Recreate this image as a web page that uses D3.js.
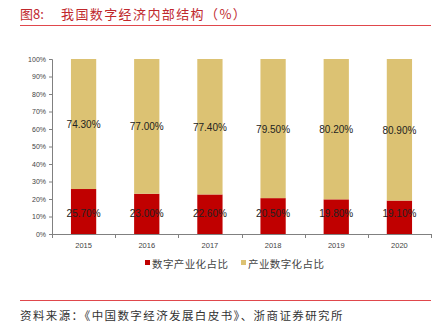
<!DOCTYPE html>
<html>
<head>
<meta charset="utf-8">
<script src="https://cdn.jsdelivr.net/npm/d3@7/dist/d3.min.js"></script>
<style>
  html, body { margin: 0; padding: 0; background: #fff; }
  svg { display: block; }
</style>
</head>
<body>
<svg id="chart" width="438" height="331"></svg>
<script>
// 我国数字经济内部结构
const years = ["2015", "2016", "2017", "2018", "2019", "2020"];
const industrialization = [25.7, 23.0, 22.6, 20.5, 19.8, 19.1];   // 数字产业化占比
const digitization = [74.3, 77.0, 77.4, 79.5, 80.2, 80.9];        // 产业数字化占比
const seriesNames = ["数字产业化占比", "产业数字化占比"];
const yTicks = [0, 10, 20, 30, 40, 50, 60, 70, 80, 90, 100];

const colors = ["#C00000", "#DCC273"];
const cjk = "'Noto Sans CJK SC', sans-serif";
const latin = "'Liberation Sans', Arial, sans-serif";

const svg = d3.select("#chart");

// Title and rule
svg.append("text")
  .attr("x", 20).attr("y", 19)
  .attr("font-family", cjk).attr("font-size", 13)
  .attr("fill", "#C0282D")
  .text("图8:");
svg.append("text")
  .attr("x", 61).attr("y", 19)
  .attr("font-family", cjk).attr("font-size", 13)
  .attr("letter-spacing", 1.4)
  .attr("fill", "#C0282D")
  .text("我国数字经济内部结构（%）");
svg.append("line")
  .attr("x1", 20).attr("x2", 431).attr("y1", 25.5).attr("y2", 25.5)
  .attr("stroke", "#E0474C").attr("stroke-width", 1);

const margin = { left: 52, right: 431, top: 59, bottom: 234 };
const x = d3.scaleBand().domain(years).range([margin.left, margin.right]).paddingInner(0.6).paddingOuter(0.3);
const y = d3.scaleLinear().domain([0, 100]).range([margin.bottom, margin.top]);

// Stacked bars
const rows = years.map((yr, i) => ({ year: yr, a: industrialization[i], b: digitization[i] }));
const stack = d3.stack().keys(["a", "b"])(rows);

const g = svg.append("g");
stack.forEach((layer, k) => {
  g.selectAll(null).data(layer).enter().append("rect")
    .attr("x", d => x(d.data.year))
    .attr("width", x.bandwidth())
    .attr("y", d => y(d[1]))
    .attr("height", d => y(d[0]) - y(d[1]))
    .attr("fill", colors[k]);
});

// Value labels
stack.forEach((layer, k) => {
  g.selectAll(null).data(layer).enter().append("text")
    .attr("x", d => x(d.data.year) + x.bandwidth() / 2)
    .attr("y", d => k === 0 ? y(12) : y(d[0] + (d[1] - d[0]) / 2) + 4)
    .attr("dy", k === 0 ? "0.35em" : 0)
    .attr("text-anchor", "middle")
    .attr("font-family", latin).attr("font-size", 10)
    .attr("fill", "#222")
    .text(d => (d[1] - d[0]).toFixed(2) + "%");
});

// Y axis
const yAxis = d3.axisLeft(y).tickValues(yTicks).tickFormat(d => d + "%").tickSize(3).tickPadding(3);
const ya = svg.append("g").attr("transform", `translate(${margin.left},0)`).call(yAxis);
ya.select(".domain").attr("stroke", "#808080").attr("d", `M-3,${margin.top}.5H0.5V${margin.bottom}.5H-3`);
ya.selectAll(".tick line").attr("stroke", "#808080");
ya.selectAll(".tick text").attr("font-family", latin).attr("font-size", 7).attr("fill", "#444");

// X axis with boundary ticks
const xa = svg.append("g").attr("transform", `translate(0,${margin.bottom})`);
xa.append("line").attr("x1", margin.left).attr("x2", margin.right).attr("y1", 0.5).attr("y2", 0.5).attr("stroke", "#808080");
const bounds = d3.range(years.length + 1).map(i => margin.left + i * (margin.right - margin.left) / years.length);
xa.selectAll(null).data(bounds).enter().append("line")
  .attr("x1", d => Math.round(d) + 0.5).attr("x2", d => Math.round(d) + 0.5)
  .attr("y1", 0).attr("y2", 4).attr("stroke", "#808080");
xa.selectAll(null).data(years).enter().append("text")
  .attr("x", d => x(d) + x.bandwidth() / 2)
  .attr("y", 14)
  .attr("text-anchor", "middle")
  .attr("font-family", latin).attr("font-size", 7.5).attr("fill", "#444")
  .text(d => d);

// Legend
const legendX = [145, 241];
seriesNames.forEach((name, i) => {
  svg.append("rect").attr("x", legendX[i]).attr("y", 260).attr("width", 5).attr("height", 5).attr("fill", colors[i]);
  svg.append("text").attr("x", legendX[i] + 7).attr("y", 267.5)
    .attr("font-family", cjk).attr("font-size", 10.5).attr("letter-spacing", 0.4)
    .attr("fill", "#444").text(name);
});

// Source
svg.append("line")
  .attr("x1", 20).attr("x2", 431).attr("y1", 300.5).attr("y2", 300.5)
  .attr("stroke", "#E0474C").attr("stroke-width", 1);
svg.append("text")
  .attr("x", 20).attr("y", 320)
  .attr("font-family", cjk).attr("font-size", 11.5).attr("letter-spacing", 1.4)
  .attr("fill", "#333")
  .text("资料来源：《中国数字经济发展白皮书》、浙商证券研究所");
</script>
</body>
</html>
